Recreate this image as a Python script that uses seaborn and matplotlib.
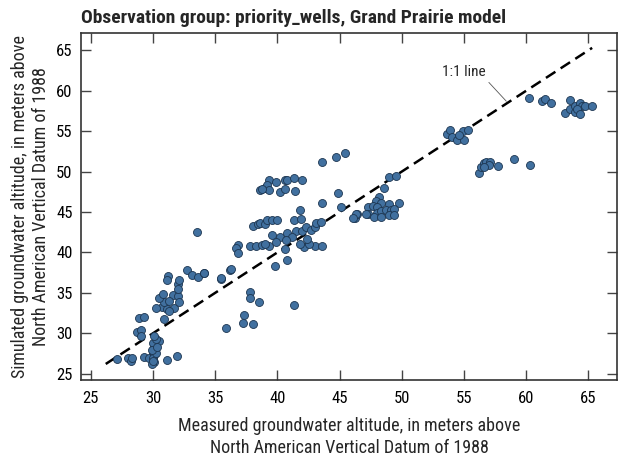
import numpy as np
import pandas as pd
import matplotlib
matplotlib.use("Agg")
import matplotlib.pyplot as plt
import seaborn as sns

# measured vs simulated groundwater altitude (m)
measured = [
    # x ~ 27-32, low cluster
    27.1, 28.0, 28.2, 28.3, 29.3, 29.7, 31.1, 31.9,
    30.2, 30.5, 30.1, 30.1, 30.0, 30.1, 30.0, 30.1, 29.9, 30.2, 30.0, 30.2,
    30.1, 29.9, 30.3, 30.0,
    28.7, 29.0, 29.0, 28.9, 29.3,
    # x ~ 30-36, rising cluster
    30.9, 30.7, 31.1, 31.7, 30.2, 31.3, 30.9, 30.5, 31.6, 32.0, 31.3, 32.1,
    30.8, 32.0, 32.0, 32.7, 31.2, 31.1, 32.1, 33.1, 33.6, 34.1, 35.5, 36.2,
    33.5, 34.1, 35.5, 36.3, 35.9,
    # x ~ 36-39, low stragglers
    37.8, 37.8, 38.5, 37.3, 37.2, 38.0, 41.3,
    # x ~ 37-44, mid band
    36.8, 36.7, 36.8, 37.8, 38.3, 38.8, 39.3, 39.0, 42.1, 43.0, 43.6, 42.5,
    39.6, 40.2, 40.8, 41.5, 41.2, 42.0, 42.3, 42.7, 43.0, 42.4, 41.8, 39.9, 40.7,
    38.0, 38.4, 38.6, 39.0, 39.2, 39.6, 40.0, 41.3, 41.9, 43.1, 43.5,
    40.6, 39.8, 40.8,
    # x ~ 38-42, upper band
    39.3, 39.9, 40.6, 40.8, 41.3, 42.0, 39.0, 39.2, 38.6, 39.3, 40.2, 40.6, 41.4, 38.8,
    # x ~ 43-46
    43.6, 44.7, 45.4, 44.9, 43.6, 41.8, 45.1, 46.2, 46.4,
    # x ~ 46-50 cluster
    49.0, 49.5, 48.6, 48.2, 47.9, 48.3, 47.3, 47.7, 48.0, 49.0, 49.8,
    47.3, 48.0, 48.3, 48.7, 49.1, 49.4, 47.8, 48.3, 49.0, 49.4, 47.1, 46.3, 46.1,
    # x ~ 54-55 cluster
    53.6, 53.9, 54.0, 54.4, 55.0, 54.9, 55.3, 54.6,
    # x ~ 56-60 low cluster
    56.2, 56.4, 56.6, 56.8, 57.1, 57.0, 57.7, 56.6, 59.0, 60.3,
    # x ~ 60-65 upper cluster
    60.2, 61.3, 61.5, 62.0, 63.5, 63.1, 63.5, 63.9, 63.9, 64.3, 64.5, 64.7, 65.3, 64.1, 64.3,
]
simulated = [
    26.8, 26.9, 26.6, 27.0, 27.1, 27.0, 26.7, 27.2,
    29.0, 29.0, 28.5, 28.1, 27.7, 27.3, 26.9, 26.4, 26.2, 27.5, 28.8, 29.3,
    29.6, 27.9, 28.3, 26.6,
    30.2, 30.4, 29.6, 31.9, 32.0,
    31.8, 33.2, 33.0, 33.1, 33.1, 32.8, 33.9, 34.4, 34.7, 34.6, 34.0, 33.9,
    34.9, 36.1, 35.5, 37.8, 37.1, 36.6, 36.6, 37.2, 36.9, 37.5, 36.7, 37.8,
    42.5, 37.5, 36.8, 37.9, 30.7,
    35.1, 34.3, 33.9, 32.2, 31.3, 31.1, 33.5,
    40.9, 40.5, 39.9, 40.8, 40.8, 40.9, 40.8, 41.0, 40.7, 40.8, 40.8, 41.0,
    42.2, 41.9, 42.4, 42.7, 41.9, 42.6, 43.2, 42.8, 43.2, 41.6, 41.1, 41.3, 41.5,
    43.3, 43.5, 43.6, 43.5, 44.0, 44.0, 44.0, 44.0, 44.1, 43.6, 43.7,
    40.4, 38.3, 39.0,
    49.0, 48.7, 49.0, 49.0, 49.2, 49.0, 48.0, 48.3, 47.7, 47.7, 47.5, 47.9, 47.6, 47.8,
    51.2, 51.8, 52.3, 47.3, 46.1, 45.2, 45.6, 44.3, 44.7,
    49.3, 49.4, 48.0, 46.8, 46.3, 46.1, 45.6, 45.8, 45.6, 46.0, 46.1,
    44.8, 44.9, 45.1, 45.2, 45.2, 45.4, 44.4, 44.4, 44.6, 44.6, 44.8, 44.8, 44.3,
    54.7, 55.1, 54.3, 53.9, 53.9, 55.0, 55.2, 54.5,
    49.8, 50.6, 51.0, 51.2, 51.2, 50.8, 50.7, 50.6, 51.5, 50.8,
    59.1, 58.7, 59.0, 58.5, 58.9, 57.2, 57.8, 57.4, 58.1, 58.5, 58.1, 58.1, 58.1, 57.7, 57.1,
]

title = "Observation group: priority_wells, Grand Prairie model"
xlabel = "Measured groundwater altitude, in meters above\nNorth American Vertical Datum of 1988"
ylabel = "Simulated groundwater altitude, in meters above\nNorth American Vertical Datum of 1988"
ticks = [25, 30, 35, 40, 45, 50, 55, 60, 65]

df = pd.DataFrame({"measured": measured, "simulated": simulated})

sns.set_style("white")
plt.rcParams["font.family"] = ["Roboto Condensed", "DejaVu Sans"]

fig = plt.figure(figsize=(6.22, 4.58), dpi=100)
ax = fig.add_axes([0.130, 0.170, 0.862, 0.759])

# 1:1 line over the range of the data
lo = min(df.min())
hi = max(df.max())
ax.plot([lo, hi], [lo, hi], color="black", lw=1.8, ls=(0, (4.5, 2.5)), zorder=1)

sns.scatterplot(data=df, x="measured", y="simulated", ax=ax, s=33,
                color="#41709f", edgecolor="#1c3550", linewidth=0.6, zorder=2)

ax.annotate("1:1 line", xy=(58.4, 58.7), xytext=(55.0, 62.3),
            ha="center", va="center", fontsize=11,
            arrowprops=dict(arrowstyle="-", color="#555555", lw=0.6,
                            relpos=(1.0, 0.0), shrinkA=0, shrinkB=0))

ax.set_xlim(24.2, 67.3)
ax.set_ylim(24.2, 67.2)
ax.set_xticks(ticks)
ax.set_yticks(ticks)
ax.tick_params(direction="in", length=7.5, width=1, colors="#444444",
               labelcolor="black", labelsize=12, top=True, right=True,
               bottom=True, left=True)
ax.tick_params(axis="x", pad=8)
ax.tick_params(axis="y", pad=6)
for side in ["left", "bottom", "top", "right"]:
    ax.spines[side].set_visible(True)
    ax.spines[side].set_color("#333333")
    ax.spines[side].set_linewidth(1.2)

ax.set_xlabel(xlabel, fontsize=13, labelpad=8, linespacing=1.25)
ax.set_ylabel(ylabel, fontsize=13, labelpad=4, linespacing=1.25)
ax.set_title(title, loc="left", fontsize=14, fontweight="bold", pad=7)

fig.savefig("out.png", dpi=100)
